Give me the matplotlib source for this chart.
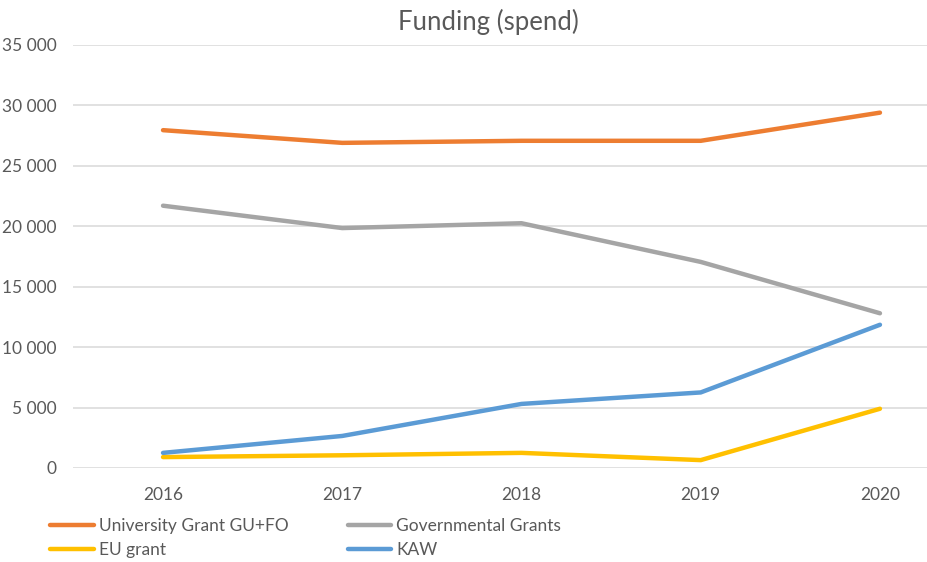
import matplotlib.pyplot as plt
from matplotlib.ticker import FuncFormatter

plt.rcParams['font.family'] = ['Lato', 'DejaVu Sans']

# data
years = ['2016', '2017', '2018', '2019', '2020']
university = [27950, 26900, 27070, 27070, 29400]
governmental = [21700, 19850, 20250, 17050, 12800]
eu_grant = [900, 1050, 1250, 650, 4900]
kaw = [1250, 2650, 5300, 6250, 11850]

series = [
    ('University Grant GU+FO', university, '#ED7D31'),
    ('Governmental Grants', governmental, '#A5A5A5'),
    ('EU grant', eu_grant, '#FFC000'),
    ('KAW', kaw, '#5B9BD5'),
]

fig = plt.figure(figsize=(9.28, 5.62), dpi=100)
ax = fig.add_axes([0.0791, 0.1673, 0.9657, 0.7527])

x = range(len(years))
lines = {}
for name, vals, col in series:
    ln, = ax.plot(x, vals, color=col, lw=3.2, solid_capstyle='round', label=name)
    lines[name] = ln

ax.set_xlim(-0.5, len(years) - 0.5)
ax.set_ylim(0, 35000)
ax.set_yticks(range(0, 35001, 5000))
ax.yaxis.set_major_formatter(FuncFormatter(lambda v, p: f'{int(v):,}'.replace(',', ' ')))
ax.set_xticks(list(x))
ax.set_xticklabels(years)

ax.grid(axis='y', color='#D9D9D9', lw=1.1)
ax.set_axisbelow(True)
for s in ax.spines.values():
    s.set_visible(False)
ax.tick_params(length=0, labelsize=12.5, colors='#595959')
ax.tick_params(axis='y', pad=12)
ax.tick_params(axis='x', pad=14)

fig.text(0.526, 0.961, 'Funding (spend)', ha='center', va='center',
         fontsize=18.5, color='#595959')

# legend: row 1 University / Governmental, row 2 EU / KAW
order = ['University Grant GU+FO', 'EU grant', 'Governmental Grants', 'KAW']
leg = fig.legend([lines[n] for n in order], order, ncol=2,
                 loc='upper left', bbox_to_anchor=(0.054, 0.079),
                 frameon=False, fontsize=12.5, handlelength=2.5,
                 handletextpad=0.3, columnspacing=3.4, labelspacing=0.48,
                 borderaxespad=0, borderpad=0)
for t in leg.get_texts():
    t.set_color('#595959')

plt.savefig('out.png', dpi=100)
